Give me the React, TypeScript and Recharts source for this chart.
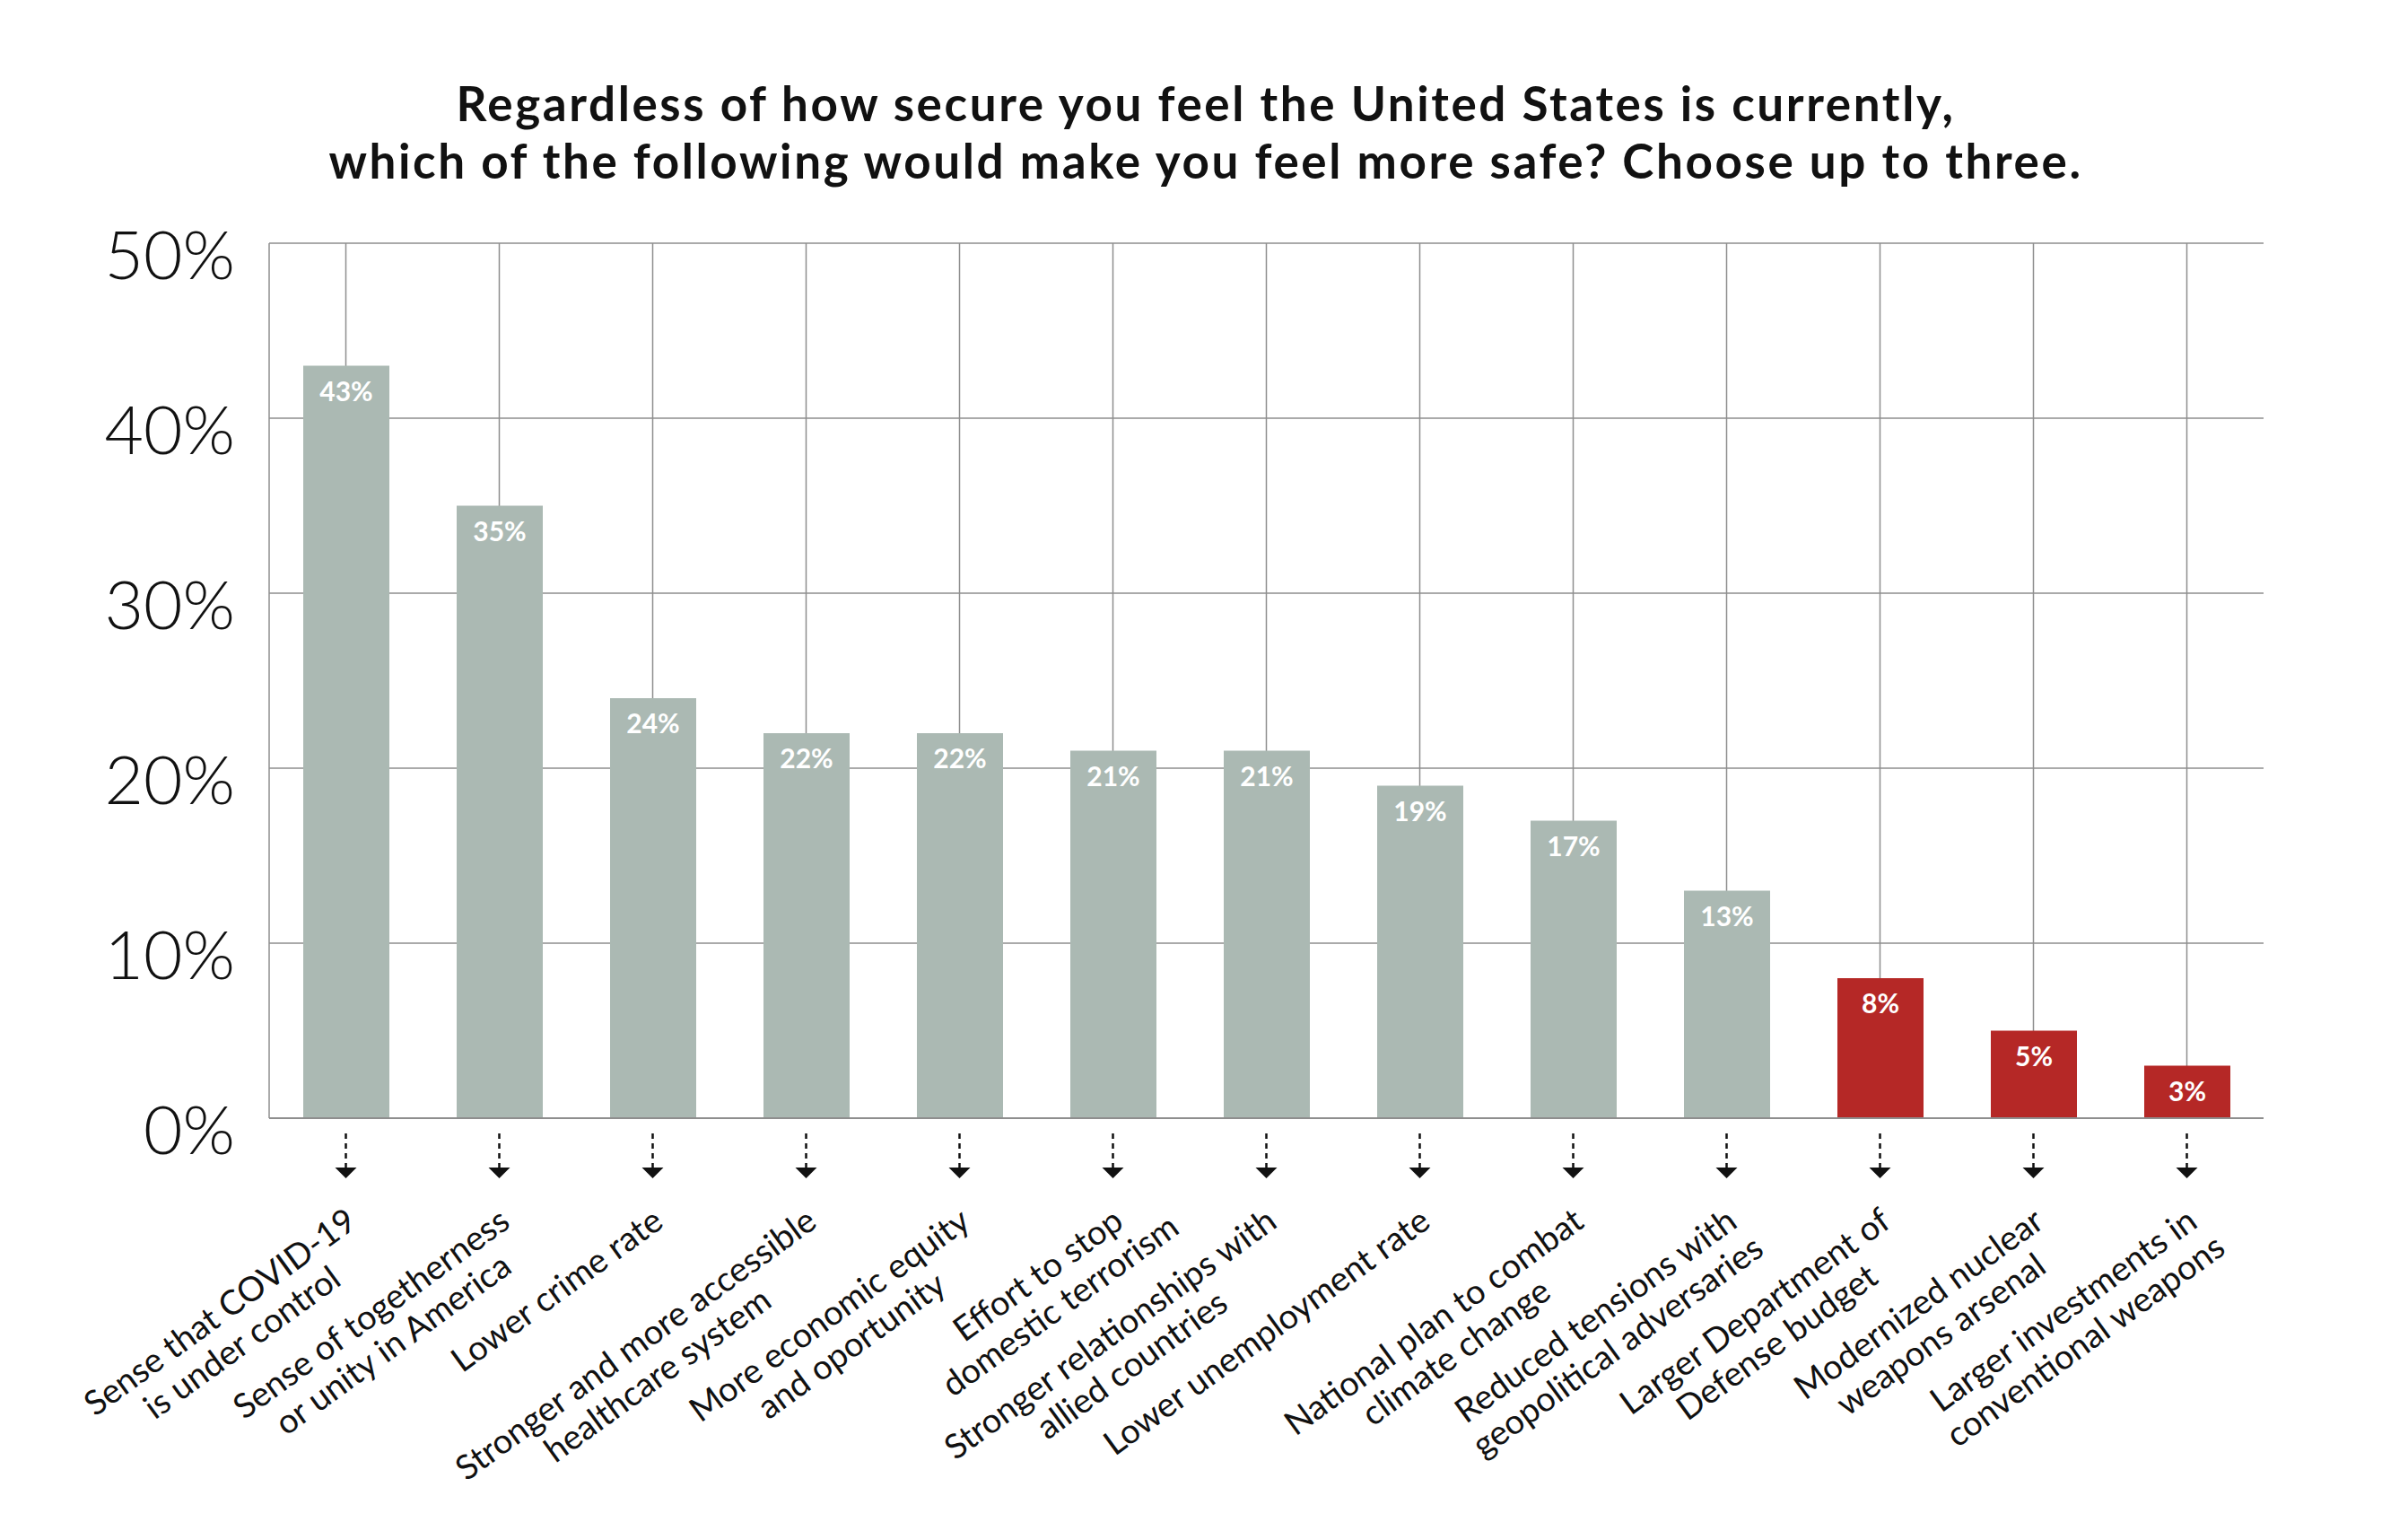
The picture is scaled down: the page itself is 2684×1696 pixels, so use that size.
import { BarChart, Bar, XAxis, YAxis, CartesianGrid, Cell, LabelList } from 'recharts';

const titleLines = [
  'Regardless of how secure you feel the United States is currently,',
  'which of the following would make you feel more safe? Choose up to three.',
];

const categories = [
  'Sense that COVID-19\nis under control',
  'Sense of togetherness\nor unity in America',
  'Lower crime rate',
  'Stronger and more accessible\nhealthcare system',
  'More economic equity\nand oportunity',
  'Effort to stop\ndomestic terrorism',
  'Stronger relationships with\nallied countries',
  'Lower unemployment rate',
  'National plan to combat\nclimate change',
  'Reduced tensions with\ngeopolitical adversaries',
  'Larger Department of\nDefense budget',
  'Modernized nuclear\nweapons arsenal',
  'Larger investments in\nconventional weapons',
];

const values = [43, 35, 24, 22, 22, 21, 21, 19, 17, 13, 8, 5, 3];

// last three items are the defence ones, drawn in red
const isDefense = [0, 0, 0, 0, 0, 0, 0, 0, 0, 0, 1, 1, 1];

const yTicks = [0, 10, 20, 30, 40, 50];

const data = categories.map((name, i) => ({ name, value: values[i], defense: isDefense[i] }));

const GREY = '#abb9b3';
const RED = '#b52826';
const GRID = '#8e8e8e';
const LABEL_FONT_SIZE = 38;
const LABEL_FAMILY = 'Lato, "Noto Sans", sans-serif';
const LABEL_WEIGHT = 400;

let ctx: CanvasRenderingContext2D | null = null;
function textWidth(s: string) {
  if (!ctx) ctx = document.createElement('canvas').getContext('2d');
  if (!ctx) return s.length * LABEL_FONT_SIZE * 0.5;
  ctx.font = `${LABEL_WEIGHT} ${LABEL_FONT_SIZE}px ${LABEL_FAMILY}`;
  return ctx.measureText(s).width;
}

function CategoryTick(props: any) {
  const { x, y, payload } = props;
  const lines = String(payload.value).split('\n');
  const w1 = textWidth(lines[0]);
  const px = x + 14;
  const py = y + 120;
  return (
    <g>
      <line x1={x} x2={x} y1={y + 17} y2={y + 55} stroke="#111" strokeWidth={2.5} strokeDasharray="6 5" />
      <polygon points={`${x - 12},${y + 55} ${x + 12},${y + 55} ${x},${y + 67}`} fill="#111" />
      <text
        transform={`translate(${px},${py}) rotate(-36)`}
        fontFamily={LABEL_FAMILY}
        fontWeight={LABEL_WEIGHT}
        fontSize={LABEL_FONT_SIZE}
        fill="#111"
      >
        <tspan x={0} y={0} textAnchor="end">{lines[0]}</tspan>
        {lines[1] && (
          <tspan x={-w1 / 2} y={42} textAnchor="middle">{lines[1]}</tspan>
        )}
      </text>
    </g>
  );
}

function PercentTick(props: any) {
  const { x, y, payload } = props;
  return (
    <text x={x} y={y + 40} textAnchor="end" fontFamily={LABEL_FAMILY} fontWeight={300} fontSize={75} fill="#111">
      {payload.value}%
    </text>
  );
}

function BarValue(props: any) {
  const { x, y, width, value } = props;
  return (
    <text x={x + width / 2} y={y + 39} textAnchor="middle" fill="#fff" fontFamily={LABEL_FAMILY} fontWeight={700} fontSize={30}>
      {value}%
    </text>
  );
}

export default function App() {
  return (
    <div style={{ position: 'absolute', left: 0, top: 0, width: 2684, height: 1696, background: '#fff' }}>
      <BarChart width={2684} height={1696} data={data} margin={{ top: 271, right: 161, bottom: 0, left: 0 }}>
        <CartesianGrid stroke={GRID} strokeWidth={1.5} syncWithTicks />
        <XAxis
          dataKey="name"
          interval={0}
          height={450}
          tickLine={false}
          tickSize={0}
          tickMargin={0}
          axisLine={{ stroke: GRID, strokeWidth: 2 }}
          tick={<CategoryTick />}
        />
        <YAxis
          width={300}
          domain={[0, 50]}
          ticks={yTicks}
          interval={0}
          tickLine={false}
          tickSize={0}
          tickMargin={38}
          axisLine={{ stroke: GRID, strokeWidth: 1.5 }}
          tick={<PercentTick />}
        />
        <Bar dataKey="value" barSize={96} isAnimationActive={false}>
          {data.map((d, i) => (
            <Cell key={i} fill={d.defense ? RED : GREY} />
          ))}
          <LabelList dataKey="value" content={<BarValue />} />
        </Bar>
      </BarChart>
      <svg width={2684} height={260} style={{ position: 'absolute', left: 0, top: 0, pointerEvents: 'none' }}>
        {titleLines.map((t, i) => (
          <text
            key={i}
            x={1344}
            y={135 + i * 64}
            textAnchor="middle"
            fontFamily={LABEL_FAMILY}
            fontWeight={700}
            fontSize={53}
            letterSpacing={2.6}
            fill="#111"
          >
            {t}
          </text>
        ))}
      </svg>
    </div>
  );
}
